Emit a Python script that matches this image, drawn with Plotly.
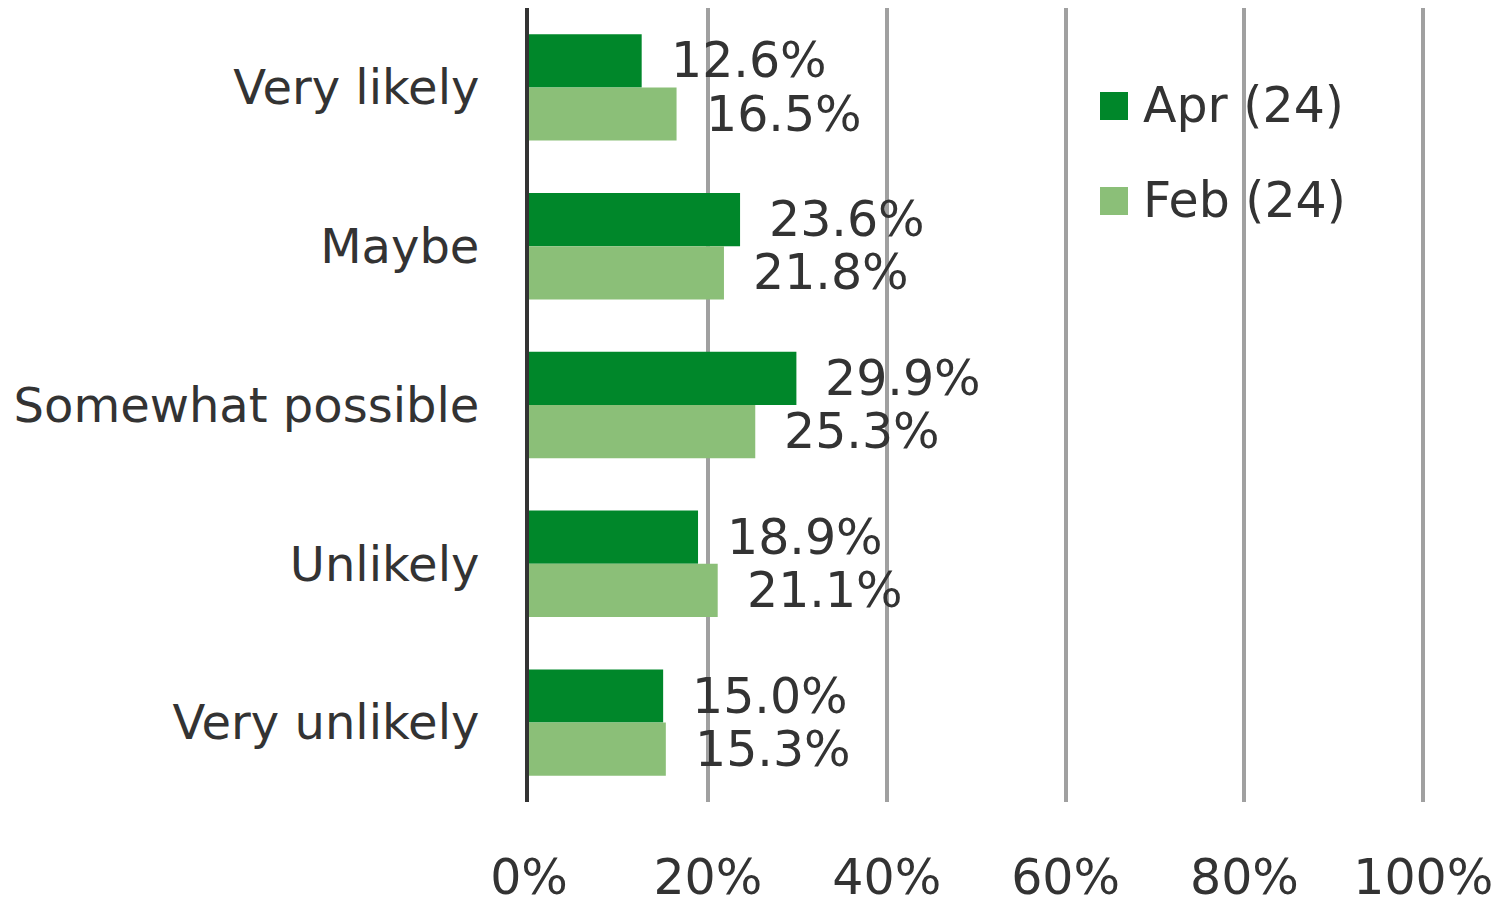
import plotly.graph_objects as go

categories = ["Very likely", "Maybe", "Somewhat possible", "Unlikely", "Very unlikely"]
apr_values = [12.6, 23.6, 29.9, 18.9, 15.0]
feb_values = [16.5, 21.8, 25.3, 21.1, 15.3]
series_names = ["Apr (24)", "Feb (24)"]
tick_values = [0, 20, 40, 60, 80, 100]
tick_labels = ["0%", "20%", "40%", "60%", "80%", "100%"]

APR_COLOR = "#00872A"
FEB_COLOR = "#8BBF78"
TEXT_COLOR = "#333333"
FONT = "DejaVu Sans"

# page body has an 8px default margin, so the figure is drawn 8px smaller and offset
OFF = 8
W, H = 1510 - OFF, 905 - OFF
L, T = 529 - OFF, 8 - OFF
PW, PH = 897, 794

fig = go.Figure()
fig.add_trace(go.Bar(y=categories, x=apr_values, orientation="h", name=series_names[0],
                     marker=dict(color=APR_COLOR, line=dict(width=0)), showlegend=False))
fig.add_trace(go.Bar(y=categories, x=feb_values, orientation="h", name=series_names[1],
                     marker=dict(color=FEB_COLOR, line=dict(width=0)), showlegend=False))

bargap = 0.33
half = (1 - bargap) / 4
annotations = []
for i, cat in enumerate(categories):
    for vals, off in ((apr_values, -half), (feb_values, half)):
        annotations.append(dict(x=vals[i], y=i + off, xref="x", yref="y",
                                text=f"{vals[i]:.1f}%", showarrow=False,
                                xanchor="left", yanchor="middle", xshift=27,
                                font=dict(family=FONT, size=49, color=TEXT_COLOR)))

# manual legend (large square swatches); positions given in page pixels
shapes = []
legend_rows = [(series_names[0], APR_COLOR, 106), (series_names[1], FEB_COLOR, 201)]
for name, color, cy in legend_rows:
    cy -= OFF
    x0 = (1100 - OFF - L) / PW
    x1 = (1128 - OFF - L) / PW
    y0 = 1 - (cy + 14 - T) / PH
    y1 = 1 - (cy - 14 - T) / PH
    shapes.append(dict(type="rect", xref="paper", yref="paper", x0=x0, x1=x1, y0=y0, y1=y1,
                       fillcolor=color, line=dict(width=0), layer="above"))
    annotations.append(dict(x=(1141 - OFF - L) / PW, y=1 - (cy - T) / PH, xref="paper", yref="paper",
                            text=name, showarrow=False, xanchor="left", yanchor="middle",
                            font=dict(family=FONT, size=49, color=TEXT_COLOR)))

fig.update_layout(
    width=W, height=H,
    margin=dict(l=L, r=W - L - PW, t=T, b=H - T - PH, autoexpand=False),
    paper_bgcolor="white", plot_bgcolor="white",
    barmode="group", bargap=bargap, bargroupgap=0,
    font=dict(family=FONT, size=48, color=TEXT_COLOR),
    showlegend=False,
    annotations=annotations,
    shapes=shapes,
)
fig.update_xaxes(range=[0, 100.3], tickvals=tick_values, ticktext=tick_labels,
                 showgrid=True, gridcolor="#A0A0A0", gridwidth=4, zeroline=False,
                 showline=False, ticks="", ticklabelstandoff=42, automargin=False,
                 tickfont=dict(family=FONT, size=49, color=TEXT_COLOR))
fig.update_yaxes(autorange="reversed", showline=True, linecolor="#333333", linewidth=4,
                 showgrid=False, ticks="", ticklabelstandoff=36, automargin=False,
                 tickfont=dict(family=FONT, size=48, color=TEXT_COLOR))

fig.write_html("out.html")
